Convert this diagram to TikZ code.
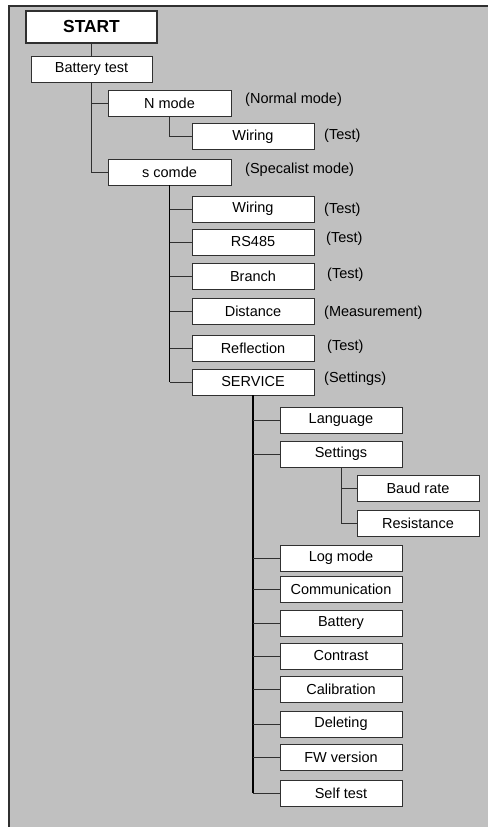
\documentclass[tikz,border=0pt]{standalone}
\usepackage{fontspec}
\setmainfont{Liberation Sans}
\usetikzlibrary{positioning}
\definecolor{panel}{HTML}{C0C0C0}
\definecolor{edge}{HTML}{303030}

\begin{document}
\begin{tikzpicture}[
  x=1pt, y=-1pt,
  box/.style={draw=edge, fill=white, line width=0.9pt, minimum width=122pt, minimum height=26pt, inner sep=0pt, font=\fontsize{14.5}{17}\selectfont},
  startbox/.style={box, line width=1.1pt, minimum width=131pt, minimum height=32pt, font=\fontsize{17.4}{20}\selectfont\bfseries},
  note/.style={anchor=west, inner sep=0pt, font=\fontsize{14.5}{17}\selectfont},
  trunk/.style={line width=1.6pt, black},
  branch/.style={line width=0.9pt, edge}
]
  \useasboundingbox (0,0) rectangle (488,827);
  \fill[panel] (9,6) rectangle (488,827);
  \draw[edge, line width=1.2pt] (9,827) -- (9,6) -- (488,6);

  \node[startbox] (start) at (91.5,27)  {START};
  \node[box, minimum width=121pt] (bat) at (91.5,69) {Battery test};

  \node[box, minimum width=123pt] (nmode)  at (169.5,103.5) {N mode};
  \node[box] (wirn)   at (253,136.5) {Wiring};
  \node[box, minimum width=123pt] (scomde) at (169.5,172) {s comde};

  \node[box] (wirs)  at (253,209)   {Wiring};
  \node[box] (rs)    at (253,242)   {RS485};
  \node[box] (brn)   at (253,276)   {Branch};
  \node[box] (dist)  at (253,311)   {Distance};
  \node[box] (refl)  at (253,348.5) {Reflection};
  \node[box] (svc)   at (253,382)   {SERVICE};

  \node[box] (lang)  at (341,420.5) {Language};
  \node[box] (set)   at (341,454)   {Settings};
  \node[box] (baud)  at (418,488)   {Baud rate};
  \node[box] (res)   at (418,523)   {Resistance};
  \node[box] (log)   at (341,558)   {Log mode};
  \node[box] (com)   at (341,589)   {Communication};
  \node[box] (batt)  at (341,623)   {Battery};
  \node[box] (contr) at (341,656)   {Contrast};
  \node[box] (calib) at (341,689)   {Calibration};
  \node[box] (del)   at (341,724)   {Deleting};
  \node[box] (fw)    at (341,757)   {FW version};
  \node[box] (self)  at (341,793)   {Self test};

  % side notes
  \node[note] (nnote) at (245,100) {(Normal mode)};
  \node[note] (snote) at (245,170) {(Specalist mode)};
  \node[note] at (324,136) {(Test)};
  \node[note] at (324,210) {(Test)};
  \node[note] at (326,239) {(Test)};
  \node[note] at (327,275) {(Test)};
  \node[note] at (324,313) {(Measurement)};
  \node[note] at (327,347) {(Test)};
  \node[note] at (324,379) {(Settings)};

  % connectors
  \draw[branch] (start) -- (bat);
  \foreach \c in {nmode,scomde} \draw[branch] (bat.south) |- (\c.west);
  \draw[branch] (nmode.south) |- (wirn.west);

  \draw[trunk] (scomde.south) -- (scomde.south |- svc.west);
  \foreach \c in {wirs,rs,brn,dist,refl,svc}
    \draw[branch] (scomde.south |- \c.west) -- (\c.west);

  \draw[trunk] (svc.south) -- (svc.south |- self.west);
  \foreach \c in {lang,set,log,com,batt,contr,calib,del,fw,self}
    \draw[branch] (svc.south |- \c.west) -- (\c.west);

  \foreach \c in {baud,res} \draw[branch] (set.south) |- (\c.west);
\end{tikzpicture}
\end{document}
